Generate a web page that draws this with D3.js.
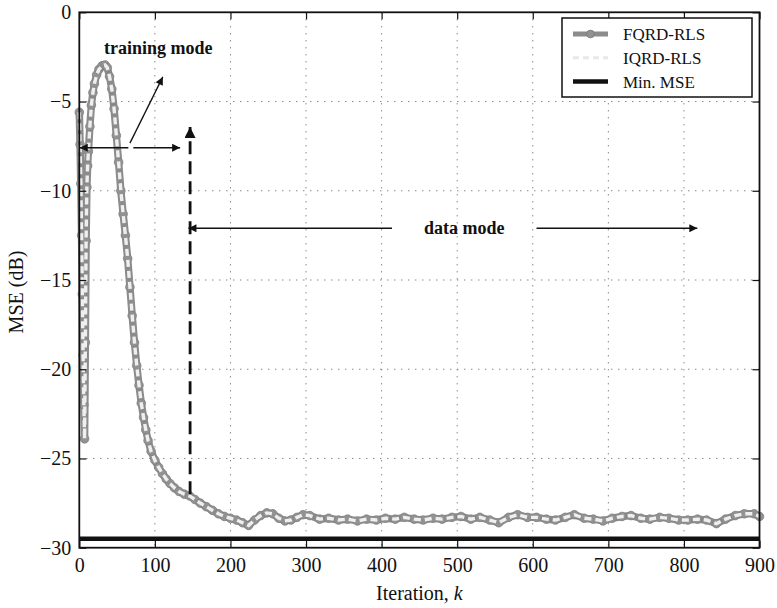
<!DOCTYPE html>
<html>
<head>
<meta charset="utf-8">
<script src="https://cdn.jsdelivr.net/npm/d3@7"></script>
<style>
  body { margin: 0; background: #fff; }
  text { font-family: "Liberation Serif", "DejaVu Serif", serif; }
</style>
</head>
<body>
<script>
// values
var iterations = [0, 1, 2, 3, 4, 5, 6, 7, 8, 9, 10, 11, 12, 14, 16, 18, 20, 23, 26, 30,
  34, 37, 40, 43, 46, 49, 52, 55, 58, 61, 64, 67, 70, 73, 76, 79, 82, 85, 88, 91,
  95, 100, 105, 110, 115, 120, 126, 132, 139, 146, 153, 160, 168, 176, 184, 192, 200, 208, 216, 224,
  232, 240, 248, 256, 264, 272, 280, 288, 296, 305, 318, 330, 343, 355, 368, 380, 393, 405, 418, 430,
  443, 455, 468, 480, 493, 505, 518, 530, 543, 555, 568, 580, 593, 605, 618, 630, 643, 655, 668, 680,
  693, 705, 718, 730, 743, 755, 768, 780, 793, 805, 818, 830, 843, 855, 868, 880, 893, 900];
var fqrdMse = [-5.6, -7.4, -9.6, -12.5, -15.8, -19.2, -22.0, -23.9, -18.5, -12.8, -9.8, -8.6, -7.8, -6.4, -5.2, -4.5, -4.0, -3.5, -3.2, -3.0,
  -2.95, -3.1, -3.6, -4.3, -5.4, -6.9, -8.4, -10.0, -11.3, -12.5, -13.8, -15.4, -17.0, -18.5, -19.8, -20.9, -21.9, -22.7, -23.4, -24.0,
  -24.6, -25.1, -25.5, -25.85, -26.15, -26.4, -26.65, -26.85, -27.0, -27.1, -27.3, -27.5, -27.7, -27.9, -28.1, -28.25, -28.35, -28.45, -28.6, -28.75,
  -28.45, -28.2, -28.05, -28.1, -28.35, -28.5, -28.45, -28.3, -28.15, -28.2, -28.4, -28.35, -28.45, -28.4, -28.5, -28.4, -28.45, -28.35, -28.4, -28.3,
  -28.4, -28.45, -28.35, -28.4, -28.3, -28.25, -28.4, -28.3, -28.45, -28.6, -28.3, -28.15, -28.3, -28.3, -28.4, -28.45, -28.3, -28.15, -28.35, -28.4,
  -28.5, -28.35, -28.25, -28.2, -28.35, -28.4, -28.3, -28.35, -28.45, -28.45, -28.4, -28.45, -28.65, -28.4, -28.2, -28.1, -28.1, -28.25];
var iqrdMse = fqrdMse; // both curves lie on top of each other
var minMse = -29.5;
var xTicks = [0, 100, 200, 300, 400, 500, 600, 700, 800, 900];
var yTicks = [0, -5, -10, -15, -20, -25, -30];
var legendNames = ["FQRD-RLS", "IQRD-RLS", "Min. MSE"];

var width = 777, height = 608;
var svg = d3.select("body").append("svg")
  .attr("width", width)
  .attr("height", height);

var x = d3.scaleLinear().domain([0, 900]).range([79.3, 759.5]);
var y = d3.scaleLinear().domain([-30, 0]).range([547.7, 12.3]);

// arrow heads
var defs = svg.append("defs");
defs.append("marker").attr("id", "head")
  .attr("viewBox", "0 0 10 10").attr("refX", 10).attr("refY", 5)
  .attr("markerUnits", "userSpaceOnUse")
  .attr("markerWidth", 12).attr("markerHeight", 8).attr("orient", "auto")
  .append("path").attr("d", "M0,0 L10,5 L0,10 Z").attr("fill", "#111");
defs.append("marker").attr("id", "bighead")
  .attr("viewBox", "0 0 10 10").attr("refX", 10).attr("refY", 5)
  .attr("markerUnits", "userSpaceOnUse")
  .attr("markerWidth", 17).attr("markerHeight", 11).attr("orient", "auto")
  .append("path").attr("d", "M0,0 L10,5 L0,10 Z").attr("fill", "#111");

// grid
svg.append("g").selectAll("line").data(xTicks.slice(1, -1)).enter().append("line")
  .attr("x1", function(d) { return x(d); }).attr("x2", function(d) { return x(d); })
  .attr("y1", y(0)).attr("y2", y(-30))
  .attr("stroke", "#555").attr("stroke-width", 1).attr("stroke-dasharray", "1,6");
svg.append("g").selectAll("line").data(yTicks.slice(1, -1)).enter().append("line")
  .attr("y1", function(d) { return y(d); }).attr("y2", function(d) { return y(d); })
  .attr("x1", x(0)).attr("x2", x(900))
  .attr("stroke", "#555").attr("stroke-width", 1).attr("stroke-dasharray", "1,6");

// minimum MSE
svg.append("line")
  .attr("x1", x(0)).attr("x2", x(900))
  .attr("y1", y(minMse)).attr("y2", y(minMse))
  .attr("stroke", "#111").attr("stroke-width", 4.5);

var line = d3.line()
  .x(function(d) { return x(d[0]); })
  .y(function(d) { return y(d[1]); });

var fqrd = d3.zip(iterations, fqrdMse);
var iqrd = d3.zip(iterations, iqrdMse);

svg.append("path").datum(fqrd)
  .attr("d", line).attr("fill", "none")
  .attr("stroke", "#8c8c8c").attr("stroke-width", 7.5).attr("stroke-linejoin", "round");
svg.append("g").selectAll("circle").data(fqrd).enter().append("circle")
  .attr("cx", function(d) { return x(d[0]); })
  .attr("cy", function(d) { return y(d[1]); })
  .attr("r", 4.3)
  .attr("fill", "#929292").attr("stroke", "#808080").attr("stroke-width", 0.8);
svg.append("path").datum(iqrd)
  .attr("d", line).attr("fill", "none")
  .attr("stroke", "#efefef").attr("stroke-width", 3.4).attr("stroke-dasharray", "7,4");

// axes with inward ticks
function styleAxis(g) {
  g.select(".domain").remove();
  g.selectAll(".tick line").attr("stroke", "#111").attr("stroke-width", 1.2);
  g.selectAll("text").attr("font-size", 20).attr("fill", "#111")
    .style("font-family", "'Liberation Serif', serif");
}
svg.append("g").attr("transform", "translate(0," + y(-30) + ")")
  .call(d3.axisBottom(x).tickValues(xTicks).tickSize(-7).tickPadding(10)).call(styleAxis);
svg.append("g").attr("transform", "translate(0," + y(0) + ")")
  .call(d3.axisTop(x).tickValues(xTicks).tickSize(-7).tickFormat("")).call(styleAxis);
svg.append("g").attr("transform", "translate(" + x(0) + ",0)")
  .call(d3.axisLeft(y).tickValues(yTicks).tickSize(-7).tickPadding(8)).call(styleAxis);
svg.append("g").attr("transform", "translate(" + x(900) + ",0)")
  .call(d3.axisRight(y).tickValues(yTicks).tickSize(-7).tickFormat("")).call(styleAxis);

svg.append("rect")
  .attr("x", x(0)).attr("y", y(0))
  .attr("width", x(900) - x(0)).attr("height", y(-30) - y(0))
  .attr("fill", "none").attr("stroke", "#111").attr("stroke-width", 1.8);

// axis titles
svg.append("text").attr("x", (x(0) + x(900)) / 2).attr("y", 600)
  .attr("text-anchor", "middle").attr("font-size", 20).attr("fill", "#111")
  .html("Iteration, <tspan font-style='italic'>k</tspan>");
svg.append("text").attr("transform", "translate(23,292) rotate(-90)")
  .attr("text-anchor", "middle").attr("font-size", 20).attr("fill", "#111")
  .text("MSE (dB)");

// annotations
var ann = svg.append("g").attr("stroke", "#111").attr("fill", "none");
ann.append("line")
  .attr("x1", x(64.9)).attr("y1", y(-7.59)).attr("x2", x(0.6)).attr("y2", y(-7.59))
  .attr("stroke-width", 1.3).attr("marker-end", "url(#head)");
ann.append("line")
  .attr("x1", x(71.5)).attr("y1", y(-7.59)).attr("x2", x(133.4)).attr("y2", y(-7.59))
  .attr("stroke-width", 1.3).attr("marker-end", "url(#head)");
ann.append("line")
  .attr("x1", x(67)).attr("y1", y(-7.33)).attr("x2", x(110.5)).attr("y2", y(-3.62))
  .attr("stroke-width", 1.3).attr("marker-end", "url(#head)");
ann.append("line")
  .attr("x1", x(146.6)).attr("y1", y(-27.0)).attr("x2", x(146.6)).attr("y2", y(-6.42))
  .attr("stroke-width", 2.8).attr("stroke-dasharray", "13,7").attr("marker-end", "url(#bighead)");
ann.append("line")
  .attr("x1", x(413.8)).attr("y1", y(-12.1)).attr("x2", x(144.4)).attr("y2", y(-12.1))
  .attr("stroke-width", 1.3).attr("marker-end", "url(#head)");
ann.append("line")
  .attr("x1", x(605)).attr("y1", y(-12.1)).attr("x2", x(817.7)).attr("y2", y(-12.1))
  .attr("stroke-width", 1.3).attr("marker-end", "url(#head)");

svg.append("text").attr("x", x(104.5)).attr("y", y(-2.31))
  .attr("text-anchor", "middle").attr("font-size", 18).attr("font-weight", "bold").attr("fill", "#111")
  .text("training mode");
svg.append("text").attr("x", x(509.5)).attr("y", y(-12.1) + 6)
  .attr("text-anchor", "middle").attr("font-size", 18).attr("font-weight", "bold").attr("fill", "#111")
  .text("data mode");

// legend
var lg = svg.append("g").attr("transform", "translate(562,18)");
lg.append("rect").attr("width", 190).attr("height", 79)
  .attr("fill", "#fff").attr("stroke", "#111").attr("stroke-width", 1.5);
var rows = lg.selectAll("g.row").data(legendNames).enter().append("g")
  .attr("transform", function(d, i) { return "translate(0," + (16 + i * 23.8) + ")"; });
rows.append("line").attr("x1", 11).attr("x2", 46).attr("y1", 0).attr("y2", 0)
  .attr("stroke", function(d, i) { return ["#8c8c8c", "#e8e8e8", "#111"][i]; })
  .attr("stroke-width", function(d, i) { return [5, 3, 4.5][i]; })
  .attr("stroke-dasharray", function(d, i) { return i === 1 ? "6,4" : null; });
rows.filter(function(d, i) { return i === 0; }).append("circle")
  .attr("cx", 28.5).attr("cy", 0).attr("r", 3.8).attr("fill", "#929292").attr("stroke", "#7e7e7e");
rows.append("text").attr("x", 61).attr("y", 6)
  .attr("font-size", 17).attr("fill", "#111")
  .text(function(d) { return d; });
</script>
</body>
</html>
